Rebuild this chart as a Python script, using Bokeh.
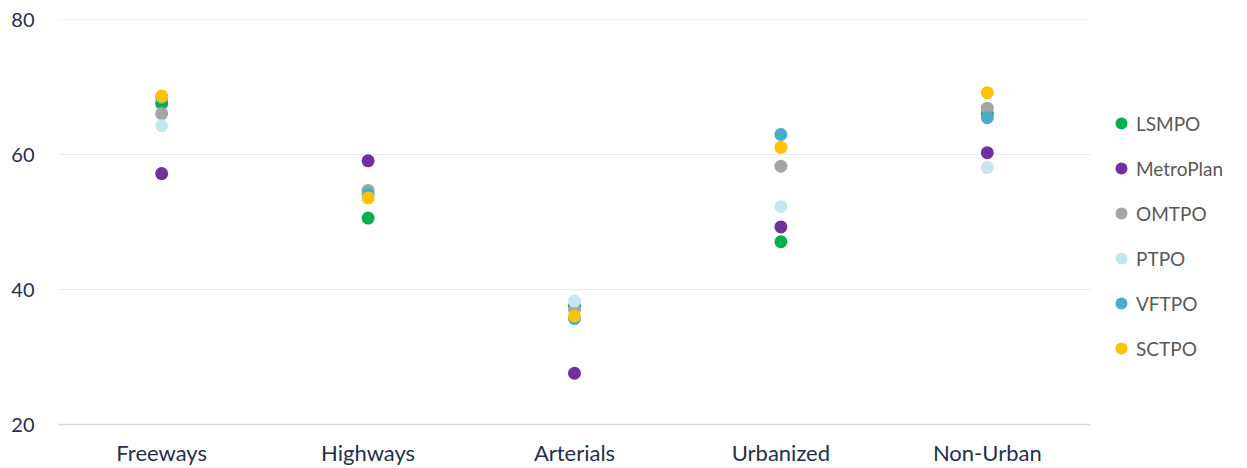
from bokeh.plotting import figure
from bokeh.models import FactorRange, FixedTicker, Legend, LegendItem, ColumnDataSource, Range1d
from bokeh.embed import file_html
from bokeh.resources import INLINE

categories = ["Freeways", "Highways", "Arterials", "Urbanized", "Non-Urban"]
series_names = ["LSMPO", "MetroPlan", "OMTPO", "PTPO", "VFTPO", "SCTPO"]
lsmpo = [67.6, 50.6, 37.6, 47.1, 66.1]
metroplan = [57.2, 59.1, 27.6, 49.3, 60.3]
omtpo = [66.1, 54.7, 37.0, 58.3, 66.9]
ptpo = [64.3, 54.0, 38.3, 52.3, 58.1]
vftpo = [68.5, 54.2, 35.7, 63.0, 65.5]
sctpo = [68.7, 53.6, 36.1, 61.1, 69.2]
series_values = [lsmpo, metroplan, omtpo, ptpo, vftpo, sctpo]
colors = ["#00B050", "#7030A0", "#A5A5A5", "#C6E6EE", "#4BACC6", "#FFC000"]
y_ticks = [20, 40, 60, 80]

p = figure(x_range=FactorRange(*categories, range_padding=0), y_range=Range1d(20, 80.05),
           frame_width=1032, frame_height=405, output_backend="svg",
           toolbar_location=None, min_border_left=58, min_border_top=19,
           min_border_bottom=42, min_border_right=155)
p.outline_line_color = None
p.background_fill_color = "white"
p.border_fill_color = "white"

items = []
for name, vals, col in zip(series_names, series_values, colors):
    src = ColumnDataSource(dict(x=categories, y=vals))
    r = p.scatter("x", "y", source=src, size=13, fill_color=col, line_color=None)
    items.append(LegendItem(label=name, renderers=[r]))

p.yaxis.ticker = FixedTicker(ticks=y_ticks)
p.yaxis.axis_line_color = None
p.yaxis.major_tick_line_color = None
p.yaxis.minor_tick_line_color = None
p.yaxis.major_tick_out = 0
p.yaxis.major_tick_in = 0
p.yaxis.major_label_text_font = "Lato"
p.yaxis.major_label_text_font_size = "20px"
p.yaxis.major_label_text_color = "#1F3050"
p.yaxis.major_label_standoff = 24

p.xaxis.axis_line_color = "#D9D9D9"
p.xaxis.axis_line_width = 1.5
p.xaxis.major_tick_line_color = None
p.xaxis.minor_tick_line_color = None
p.xaxis.major_tick_out = 0
p.xaxis.major_tick_in = 0
p.xaxis.major_label_text_font = "Lato"
p.xaxis.major_label_text_font_size = "22px"
p.xaxis.major_label_text_color = "#1F3050"
p.xaxis.major_label_standoff = 14

p.xgrid.grid_line_color = None
p.ygrid.grid_line_color = "#EBEBEB"
p.ygrid.grid_line_width = 1

legend = Legend(items=items, location=(16, 61), orientation="vertical",
                glyph_width=30, glyph_height=30, spacing=15, padding=0, margin=0,
                label_standoff=0, label_text_font="Lato", label_text_font_size="19px",
                label_text_color="#595959", border_line_color=None,
                background_fill_alpha=0)
p.add_layout(legend, "right")

open("out.html", "w").write(file_html(p, INLINE))
